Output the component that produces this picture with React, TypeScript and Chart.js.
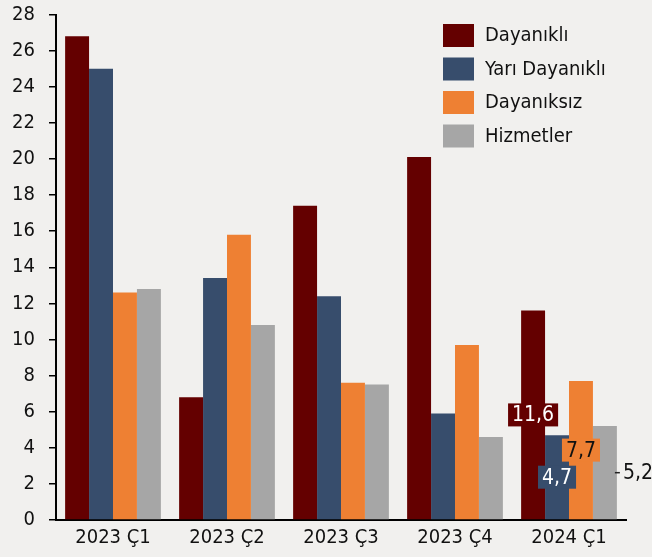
import React, { useEffect, useRef } from "react";
import { Chart, registerables } from "chart.js";

Chart.register(...registerables);

const categories = ["2023 Ç1", "2023 Ç2", "2023 Ç3", "2023 Ç4", "2024 Ç1"];
const seriesNames = ["Dayanıklı", "Yarı Dayanıklı", "Dayanıksız", "Hizmetler"];
const dayanikli = [26.8, 6.8, 17.4, 20.1, 11.6];
const yariDayanikli = [25.0, 13.4, 12.4, 5.9, 4.7];
const dayaniksiz = [12.6, 15.8, 7.6, 9.7, 7.7];
const hizmetler = [12.8, 10.8, 7.5, 4.6, 5.2];
const colors = ["#640000", "#374d6c", "#ee8033", "#a6a6a6"];
const labelTextColors = ["#ffffff", "#ffffff", "#111111", "#111111"];

const FONT = '"DejaVu Sans Condensed", "DejaVu Sans", sans-serif';
const BG = "#f1f0ee";

const fmt = (v: number) => v.toFixed(1).replace(".", ",");

const bgPlugin = {
  id: "bg",
  beforeDraw(chart: any) {
    const { ctx, width, height } = chart;
    ctx.save();
    ctx.fillStyle = BG;
    ctx.fillRect(0, 0, width, height);
    ctx.restore();
  },
};

const labelPlugin = {
  id: "lastLabels",
  afterDatasetsDraw(chart: any) {
    const { ctx } = chart;
    const idx = categories.length - 1;
    ctx.save();
    ctx.font = `21px ${FONT}`;
    ctx.textBaseline = "middle";
    chart.data.datasets.forEach((ds: any, di: number) => {
      const el = chart.getDatasetMeta(di).data[idx];
      if (!el) return;
      const v = ds.data[idx];
      const txt = fmt(v);
      const cy = (el.y + el.base) / 2;
      if (di === 3) {
        const right = el.x + el.width / 2;
        ctx.strokeStyle = "#222";
        ctx.lineWidth = 1.5;
        ctx.beginPath();
        ctx.moveTo(right - 2, cy);
        ctx.lineTo(right + 3, cy);
        ctx.stroke();
        ctx.fillStyle = "#111";
        ctx.textAlign = "left";
        ctx.fillText(txt, right + 6, cy + 1);
        return;
      }
      const tw = ctx.measureText(txt).width;
      const w = tw + 8;
      const h = 23;
      ctx.fillStyle = colors[di];
      ctx.fillRect(el.x - w / 2, cy - h / 2, w, h);
      ctx.fillStyle = labelTextColors[di];
      ctx.textAlign = "center";
      ctx.fillText(txt, el.x, cy + 1);
    });
    ctx.restore();
  },
};

const legendPlugin = {
  id: "customLegend",
  afterDraw(chart: any) {
    const { ctx, chartArea } = chart;
    const bx = chartArea.right - 183;
    const top = 24;
    const step = 33.5;
    ctx.save();
    ctx.font = `20px ${FONT}`;
    ctx.textBaseline = "middle";
    ctx.textAlign = "left";
    seriesNames.forEach((name, i) => {
      const y = top + i * step;
      ctx.fillStyle = colors[i];
      ctx.fillRect(bx, y, 31, 23);
      ctx.fillStyle = "#111";
      ctx.fillText(name, bx + 42, y + 12);
    });
    ctx.restore();
  },
};

export default function App() {
  const ref = useRef<HTMLCanvasElement>(null);
  useEffect(() => {
    if (!ref.current) return;
    const series = [dayanikli, yariDayanikli, dayaniksiz, hizmetler];
    const chart = new Chart(ref.current, {
      type: "bar",
      data: {
        labels: categories,
        datasets: series.map((d, i) => ({
          label: seriesNames[i],
          data: d,
          backgroundColor: colors[i],
          borderWidth: 0,
          categoryPercentage: 0.84,
          barPercentage: 1.0,
        })),
      },
      options: {
        responsive: false,
        animation: false,
        layout: { padding: { top: 14.5, right: 26, left: 0, bottom: 0 } },
        plugins: {
          legend: { display: false },
          tooltip: { enabled: false },
        },
        scales: {
          x: {
            grid: { display: false, drawTicks: false },
            border: { display: true, color: "#000", width: 2 },
            ticks: { color: "#111", font: { family: FONT, size: 20 }, padding: 6 },
            afterFit(scale: any) {
              scale.height = 37;
            },
          },
          y: {
            min: 0,
            max: 28,
            ticks: {
              stepSize: 2,
              color: "#111",
              font: { family: FONT, size: 20 },
              padding: 14,
            },
            grid: {
              drawOnChartArea: false,
              drawTicks: true,
              tickLength: 7,
              color: "#000",
              lineWidth: 1.5,
            },
            border: { display: true, color: "#000", width: 2 },
            afterFit(scale: any) {
              scale.width = 56;
              scale.paddingTop = 0;
              scale.paddingBottom = 0;
            },
          },
        },
      },
      plugins: [bgPlugin, labelPlugin, legendPlugin],
    });
    return () => chart.destroy();
  }, []);
  return (
    <div style={{ position: "fixed", left: 0, top: 0, width: 652, height: 557, background: BG }}>
      <canvas ref={ref} width={652} height={557} />
    </div>
  );
}
